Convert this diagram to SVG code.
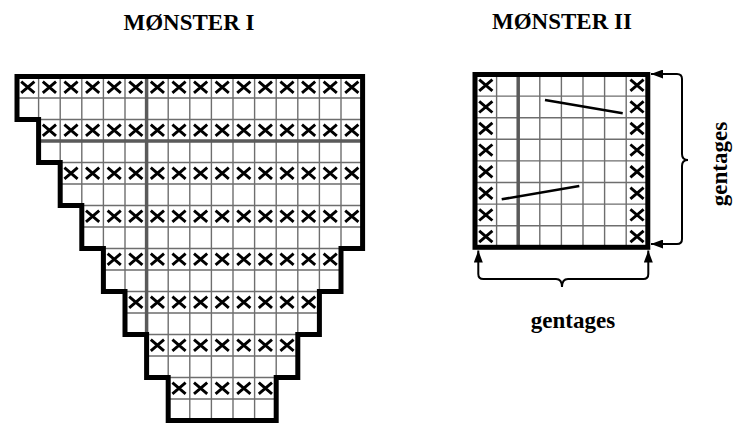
<svg xmlns="http://www.w3.org/2000/svg" xmlns:xlink="http://www.w3.org/1999/xlink" width="735" height="423" viewBox="0 0 735 423">
<style>
.t{font-family:"Liberation Serif","Times New Roman",serif;font-weight:bold;font-size:23px;fill:#000;text-anchor:middle}
.g{stroke:#6e6e6e;stroke-width:1.4;fill:none}
.gt{stroke:#5a5a5a;stroke-width:3.5;fill:none}
.b{stroke:#000;stroke-width:5;fill:none;stroke-linejoin:miter}
.d{stroke:#000;stroke-width:2.6;fill:none}
.br{stroke:#000;stroke-width:2;fill:none;marker-start:url(#ah);marker-end:url(#ah)}
</style>
<defs>
<path id="x" d="M-6.6,-5.6 L6.6,5.6 M-6.6,5.6 L6.6,-5.6" stroke="#000" stroke-width="2.9" fill="none"/>
<marker id="ah" markerUnits="userSpaceOnUse" markerWidth="12" markerHeight="9" refX="12" refY="4.5" orient="auto-start-reverse" viewBox="0 0 12 9">
<path d="M0,0 L12,4.5 L0,9 z" fill="#000"/>
</marker>
<clipPath id="c1">
<polygon points="17,76.5 362.6,76.5 362.6,248.5 341,248.5 341,291.5 319.4,291.5 319.4,334.5 297.8,334.5 297.8,377.5 276.2,377.5 276.2,420.5 168.2,420.5 168.2,377.5 146.6,377.5 146.6,334.5 125,334.5 125,291.5 103.4,291.5 103.4,248.5 81.8,248.5 81.8,205.5 60.2,205.5 60.2,162.5 38.6,162.5 38.6,119.5 17,119.5"/>
</clipPath>
</defs>
<rect width="735" height="423" fill="#fff"/>

<g id="title1"><text class="t" x="189" y="29.5">MØNSTER I</text></g>
<g id="title2"><text class="t" x="562" y="28.5">MØNSTER II</text></g>

<g id="monster1">
<g clip-path="url(#c1)">
<path class="g" d="M38.6,70V423M60.2,70V423M81.8,70V423M103.4,70V423M125,70V423M168.2,70V423M189.8,70V423M211.4,70V423M233,70V423M254.6,70V423M276.2,70V423M297.8,70V423M319.4,70V423M341,70V423
M10,98H370M10,119.5H370M10,162.5H370M10,184H370M10,205.5H370M10,227H370M10,248.5H370M10,270H370M10,291.5H370M10,313H370M10,334.5H370M10,356H370M10,377.5H370M10,399H370"/>
<path class="gt" d="M146.6,70V423M10,141H370"/>
</g>
<g id="x1">
<use xlink:href="#x" x="27.8" y="87.25"/><use xlink:href="#x" x="49.4" y="87.25"/><use xlink:href="#x" x="71" y="87.25"/><use xlink:href="#x" x="92.6" y="87.25"/><use xlink:href="#x" x="114.2" y="87.25"/><use xlink:href="#x" x="135.8" y="87.25"/><use xlink:href="#x" x="157.4" y="87.25"/><use xlink:href="#x" x="179" y="87.25"/><use xlink:href="#x" x="200.6" y="87.25"/><use xlink:href="#x" x="222.2" y="87.25"/><use xlink:href="#x" x="243.8" y="87.25"/><use xlink:href="#x" x="265.4" y="87.25"/><use xlink:href="#x" x="287" y="87.25"/><use xlink:href="#x" x="308.6" y="87.25"/><use xlink:href="#x" x="330.2" y="87.25"/><use xlink:href="#x" x="351.8" y="87.25"/>
<use xlink:href="#x" x="49.4" y="130.25"/><use xlink:href="#x" x="71" y="130.25"/><use xlink:href="#x" x="92.6" y="130.25"/><use xlink:href="#x" x="114.2" y="130.25"/><use xlink:href="#x" x="135.8" y="130.25"/><use xlink:href="#x" x="157.4" y="130.25"/><use xlink:href="#x" x="179" y="130.25"/><use xlink:href="#x" x="200.6" y="130.25"/><use xlink:href="#x" x="222.2" y="130.25"/><use xlink:href="#x" x="243.8" y="130.25"/><use xlink:href="#x" x="265.4" y="130.25"/><use xlink:href="#x" x="287" y="130.25"/><use xlink:href="#x" x="308.6" y="130.25"/><use xlink:href="#x" x="330.2" y="130.25"/><use xlink:href="#x" x="351.8" y="130.25"/>
<use xlink:href="#x" x="71" y="173.25"/><use xlink:href="#x" x="92.6" y="173.25"/><use xlink:href="#x" x="114.2" y="173.25"/><use xlink:href="#x" x="135.8" y="173.25"/><use xlink:href="#x" x="157.4" y="173.25"/><use xlink:href="#x" x="179" y="173.25"/><use xlink:href="#x" x="200.6" y="173.25"/><use xlink:href="#x" x="222.2" y="173.25"/><use xlink:href="#x" x="243.8" y="173.25"/><use xlink:href="#x" x="265.4" y="173.25"/><use xlink:href="#x" x="287" y="173.25"/><use xlink:href="#x" x="308.6" y="173.25"/><use xlink:href="#x" x="330.2" y="173.25"/><use xlink:href="#x" x="351.8" y="173.25"/>
<use xlink:href="#x" x="92.6" y="216.25"/><use xlink:href="#x" x="114.2" y="216.25"/><use xlink:href="#x" x="135.8" y="216.25"/><use xlink:href="#x" x="157.4" y="216.25"/><use xlink:href="#x" x="179" y="216.25"/><use xlink:href="#x" x="200.6" y="216.25"/><use xlink:href="#x" x="222.2" y="216.25"/><use xlink:href="#x" x="243.8" y="216.25"/><use xlink:href="#x" x="265.4" y="216.25"/><use xlink:href="#x" x="287" y="216.25"/><use xlink:href="#x" x="308.6" y="216.25"/><use xlink:href="#x" x="330.2" y="216.25"/><use xlink:href="#x" x="351.8" y="216.25"/>
<use xlink:href="#x" x="114.2" y="259.25"/><use xlink:href="#x" x="135.8" y="259.25"/><use xlink:href="#x" x="157.4" y="259.25"/><use xlink:href="#x" x="179" y="259.25"/><use xlink:href="#x" x="200.6" y="259.25"/><use xlink:href="#x" x="222.2" y="259.25"/><use xlink:href="#x" x="243.8" y="259.25"/><use xlink:href="#x" x="265.4" y="259.25"/><use xlink:href="#x" x="287" y="259.25"/><use xlink:href="#x" x="308.6" y="259.25"/><use xlink:href="#x" x="330.2" y="259.25"/>
<use xlink:href="#x" x="135.8" y="302.25"/><use xlink:href="#x" x="157.4" y="302.25"/><use xlink:href="#x" x="179" y="302.25"/><use xlink:href="#x" x="200.6" y="302.25"/><use xlink:href="#x" x="222.2" y="302.25"/><use xlink:href="#x" x="243.8" y="302.25"/><use xlink:href="#x" x="265.4" y="302.25"/><use xlink:href="#x" x="287" y="302.25"/><use xlink:href="#x" x="308.6" y="302.25"/>
<use xlink:href="#x" x="157.4" y="345.25"/><use xlink:href="#x" x="179" y="345.25"/><use xlink:href="#x" x="200.6" y="345.25"/><use xlink:href="#x" x="222.2" y="345.25"/><use xlink:href="#x" x="243.8" y="345.25"/><use xlink:href="#x" x="265.4" y="345.25"/><use xlink:href="#x" x="287" y="345.25"/>
<use xlink:href="#x" x="179" y="388.25"/><use xlink:href="#x" x="200.6" y="388.25"/><use xlink:href="#x" x="222.2" y="388.25"/><use xlink:href="#x" x="243.8" y="388.25"/><use xlink:href="#x" x="265.4" y="388.25"/>
</g>
<polygon class="b" points="17,76.5 362.6,76.5 362.6,248.5 341,248.5 341,291.5 319.4,291.5 319.4,334.5 297.8,334.5 297.8,377.5 276.2,377.5 276.2,420.5 168.2,420.5 168.2,377.5 146.6,377.5 146.6,334.5 125,334.5 125,291.5 103.4,291.5 103.4,248.5 81.8,248.5 81.8,205.5 60.2,205.5 60.2,162.5 38.6,162.5 38.6,119.5 17,119.5"/>
</g>

<g id="monster2">
<path class="g" d="M496.6,74.5V247.3M539.8,74.5V247.3M561.4,74.5V247.3M583,74.5V247.3M604.6,74.5V247.3M626.2,74.5V247.3
M475,96.1H647.8M475,117.7H647.8M475,139.3H647.8M475,160.9H647.8M475,182.5H647.8M475,204.1H647.8M475,225.7H647.8"/>
<path class="gt" d="M518.2,74.5V247.3"/>
<g id="x2">
<use xlink:href="#x" x="485.8" y="85.3"/><use xlink:href="#x" x="485.8" y="106.9"/><use xlink:href="#x" x="485.8" y="128.5"/><use xlink:href="#x" x="485.8" y="150.1"/><use xlink:href="#x" x="485.8" y="171.7"/><use xlink:href="#x" x="485.8" y="193.3"/><use xlink:href="#x" x="485.8" y="214.9"/><use xlink:href="#x" x="485.8" y="236.5"/>
<use xlink:href="#x" x="637" y="85.3"/><use xlink:href="#x" x="637" y="106.9"/><use xlink:href="#x" x="637" y="128.5"/><use xlink:href="#x" x="637" y="150.1"/><use xlink:href="#x" x="637" y="171.7"/><use xlink:href="#x" x="637" y="193.3"/><use xlink:href="#x" x="637" y="214.9"/><use xlink:href="#x" x="637" y="236.5"/>
</g>
<path class="d" d="M545,100L622.7,113.3M501.7,199.3L579.3,186"/>
<rect class="b" x="475" y="74.5" width="172.8" height="172.8"/>
</g>

<g id="connectors">
<path class="br" d="M651,74H677Q682,74 682,79V154Q682,160 688,160Q682,160 682,166V239Q682,244 677,244H651"/>
<path class="br" d="M478.3,250.5V274Q478.3,279 483.3,279H556Q562,279 562,287Q562,279 568,279H643.3Q648.3,279 648.3,274V250.5"/>
</g>

<g id="label-v"><text class="t" transform="translate(727,164) rotate(-90)">gentages</text></g>
<g id="label-h"><text class="t" x="573" y="328">gentages</text></g>
</svg>
